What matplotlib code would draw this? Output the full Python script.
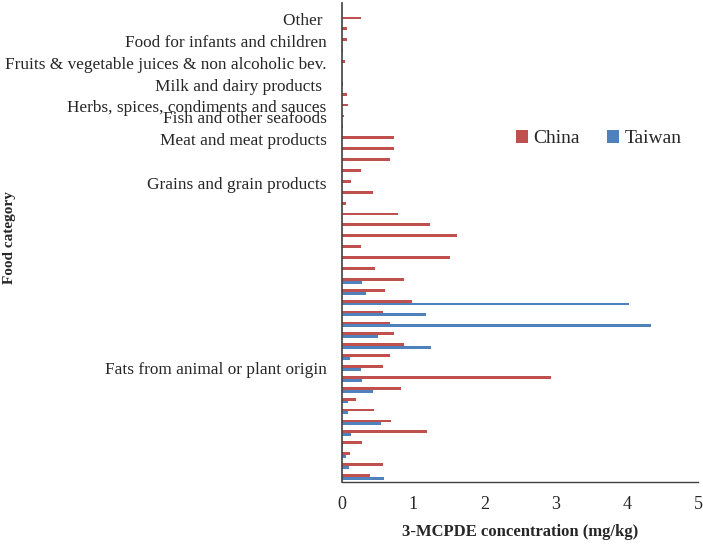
import matplotlib.pyplot as plt
import numpy as np

plt.rcParams['font.family'] = ['Liberation Serif', 'DejaVu Serif']

# rows listed top to bottom
china = [0, 0.27, 0.07, 0.066, 0.01, 0.04, 0, 0.015, 0.075, 0.08, 0.025,
         0.02, 0.73, 0.73, 0.67, 0.27, 0.12, 0.44, 0.05, 0.78, 1.24,
         1.615, 0.27, 1.52, 0.46, 0.87, 0.60, 0.98, 0.57, 0.68, 0.735,
         0.87, 0.68, 0.58, 2.94, 0.83, 0.19, 0.45, 0.69, 1.20, 0.28,
         0.11, 0.575, 0.39]
taiwan = [0] * 25 + [0.28, 0.34, 4.03, 1.18, 4.34, 0.50, 1.25, 0.11, 0.26,
                     0.28, 0.43, 0.08, 0.08, 0.55, 0.12, 0.02, 0.056, 0.10,
                     0.59]

# category labels shown on the axis (row index -> text)
category_labels = {
    1: 'Other ',
    3: 'Food for infants and children',
    5: 'Fruits & vegetable juices & non alcoholic bev.',
    7: 'Milk and dairy products ',
    9: 'Herbs, spices, condiments and sauces',
    10: 'Fish and other seafoods',
    12: 'Meat and meat products',
    16: 'Grains and grain products',
    33: 'Fats from animal or plant origin',
}
xticks = [0, 1, 2, 3, 4, 5]

red = '#C0504D'
blue = '#4F81BD'
axcol = '#404040'

n = len(china)
y = np.arange(n)
h = 0.26

fig = plt.figure(figsize=(7.03, 5.49), dpi=100)
ax = fig.add_axes([0.4865, 0.1215, 0.9929 - 0.4865, 0.9945 - 0.1215])

ax.barh(y - h / 2, china, height=h, color=red, label='China')
ax.barh(y + h / 2, taiwan, height=h, color=blue, label='Taiwan')

ax.set_ylim(n - 0.5, -0.5)
ax.set_xlim(0, 5)
ax.set_xticks(xticks)
ax.set_xticklabels([str(t) for t in xticks])
ax.set_yticks(y)
ax.set_yticklabels([category_labels.get(i, '') for i in range(n)])

ax.tick_params(axis='y', length=0, pad=11, labelsize=12.4, labelcolor='#262626')
ax.tick_params(axis='x', length=0, pad=10, labelsize=13, labelcolor='#262626')

for s in ['top', 'right']:
    ax.spines[s].set_visible(False)
ax.spines['left'].set_color(axcol)
ax.spines['bottom'].set_color(axcol)
ax.spines['left'].set_linewidth(1.2)
ax.spines['bottom'].set_linewidth(1.0)

ax.set_xlabel('3-MCPDE concentration (mg/kg)', fontsize=12, fontweight='bold',
              color='#262626', labelpad=8)
fig.text(0.013, 0.568, 'Food category', rotation=90, fontsize=11,
         fontweight='bold', color='#262626', ha='center', va='center')

fig.legend(loc='center', bbox_to_anchor=(0.852, 0.747), ncol=2, frameon=False,
           fontsize=14, handlelength=0.6, handleheight=0.6, handletextpad=0.3,
           columnspacing=1.4, labelcolor='#262626')

fig.savefig('out.png', dpi=100)
